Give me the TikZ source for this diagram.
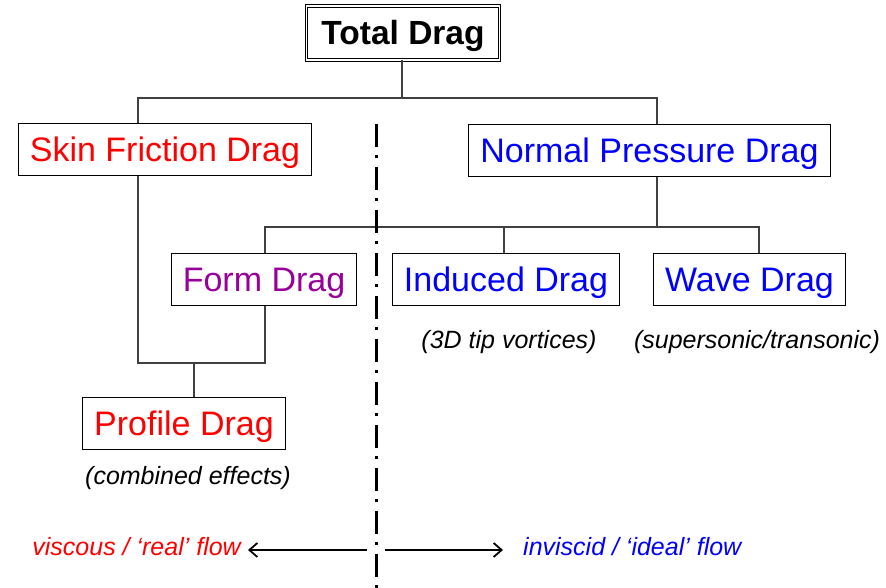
\documentclass[tikz,border=0pt]{standalone}
\usepackage{fontspec}
\setmainfont{Liberation Sans}
\usetikzlibrary{arrows.meta}
\definecolor{dragred}{RGB}{255,0,0}
\definecolor{dragblue}{RGB}{0,0,255}
\definecolor{dragpurple}{RGB}{153,0,153}
\tikzset{
  dragbox/.style={draw=black, line width=1pt, inner xsep=11.5pt, minimum height=52pt,
    text height=24pt, text depth=0pt, font=\fontsize{34}{40}\selectfont},
  note/.style={font=\fontsize{25}{30}\selectfont\itshape, inner sep=0pt},
  link/.style={draw=black!75, line width=1.2pt},
  flowarrow/.style={line width=1.8pt, -{Straight Barb[length=8pt,width=14pt,line width=1.8pt]}}
}
\begin{document}
\begin{tikzpicture}[x=1pt,y=-1pt]
\useasboundingbox[fill=white] (0,0) rectangle (886,588);
% Draw boxes
\node[draw, double, double distance=1.6pt, line width=1pt, minimum width=193pt, minimum height=54pt,
  text height=24pt, text depth=0pt, font=\fontsize{33.5}{40}\selectfont\bfseries] (tot) at (403,33) {Total Drag};
\node[dragbox, text=dragred] (skin) at (165,150) {Skin Friction Drag};
\node[dragbox, text=dragblue] (npd) at (649.5,150.5) {Normal Pressure Drag};
\node[dragbox, text=dragpurple] (form) at (264,279) {Form Drag};
\node[dragbox, text=dragblue] (ind) at (506,279) {Induced Drag};
\node[dragbox, text=dragblue] (wave) at (749.5,279) {Wave Drag};
\node[dragbox, text=dragred] (prof) at (184,423) {Profile Drag};
% Draw notes
\node[note] (indnote) at (509,342) {(3D tip vortices)};
\node[note] (wavenote) at (757,342) {(supersonic/transonic)};
\node[note] (profnote) at (188,478) {(combined effects)};
% Draw connectors
\coordinate (topbus) at (402,98);
\coordinate (npdbus) at (657,227);
\coordinate (profbus) at (194,363);
\draw[link] (tot.south -| topbus) -- (topbus);
\draw[link] ([xshift=-27pt]skin.north) |- (topbus) -| ([xshift=7.5pt]npd.north);
\draw[link] ([xshift=7.5pt]npd.south) -- (npdbus);
\draw[link] ([xshift=1pt]form.north) |- (npdbus) -| ([xshift=9.5pt]wave.north);
\draw[link] ([xshift=-2pt]ind.north) -- ([xshift=-2pt]ind.north |- npdbus);
\draw[link] ([xshift=-27pt]skin.south) |- (profbus) -| ([xshift=1pt]form.south);
\draw[link] (profbus) -- ([xshift=10pt]prof.north);
% Draw dividing line
\draw[line width=3pt, dash pattern=on 23pt off 8pt on 3pt off 9pt] (376,124) -- (376,588);
% Draw flow labels
\node[note, text=dragred, anchor=east] (visc) at (241,547) {viscous / ‘real’ flow};
\node[note, text=dragblue, anchor=west] (invisc) at (523,547) {inviscid / ‘ideal’ flow};
\coordinate (midL) at (367,550);
\coordinate (midR) at (385,550);
\draw[flowarrow] (midL) -- ([xshift=7pt]visc.east |- midL);
\draw[flowarrow] (midR) -- ([xshift=-20pt]invisc.west |- midR);
\end{tikzpicture}
\end{document}
